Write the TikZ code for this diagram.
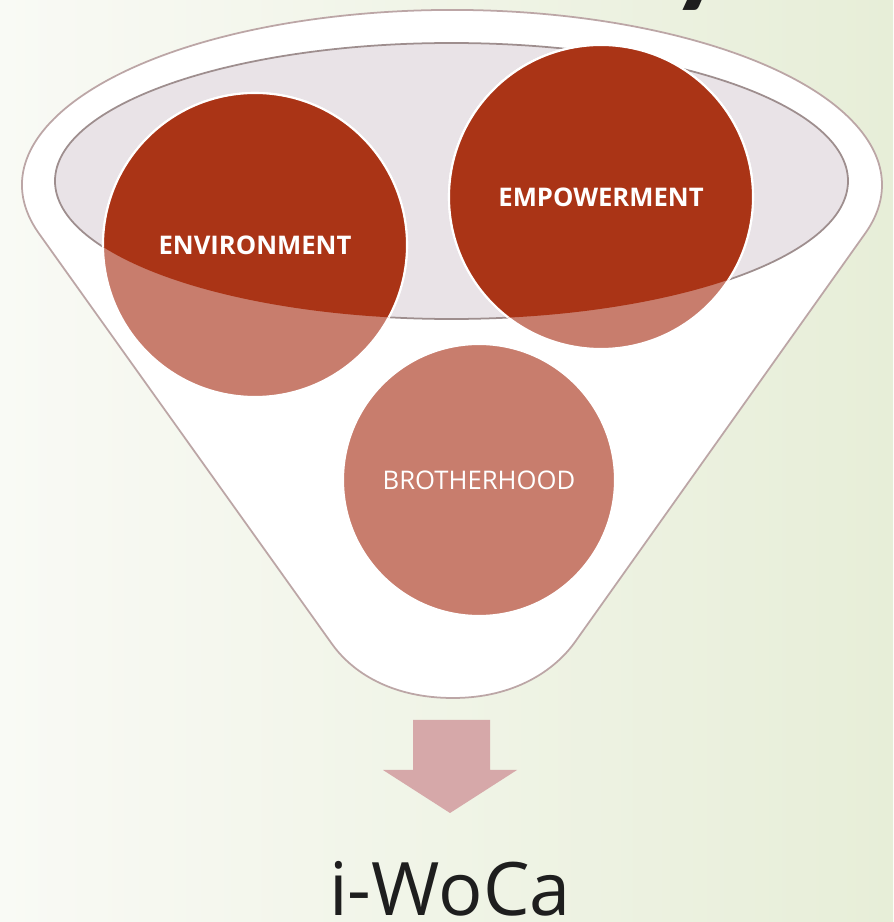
\documentclass[tikz,border=0pt]{standalone}
\usepackage{fontspec}
\setmainfont{Open Sans}
\newfontfamily\titlefont{Lato}
\usepackage{tikz}
\usetikzlibrary{calc}
\definecolor{bgleft}{HTML}{F9FAF5}
\definecolor{bgright}{HTML}{E7EED8}
\definecolor{rim}{HTML}{E9E3E7}
\definecolor{rimline}{HTML}{9E8E8E}
\definecolor{edge}{HTML}{BCA6A6}
\definecolor{rust}{HTML}{AA3416}
\definecolor{salmon}{HTML}{C87D6D}
\definecolor{arrowpink}{HTML}{D6A8A9}
\definecolor{ink}{HTML}{1E1E1E}
\tikzset{
  funnel/.style={fill=white, draw=edge, line width=0.5pt, line join=round},
  rimin/.style={fill=rim, draw=rimline, line width=0.5pt},
  bubble/.style={circle, fill=salmon, draw=white, line width=0.6pt, minimum size=#1, inner sep=0pt},
  dark/.style={fill=rust, draw=white, line width=0.6pt},
  lab/.style={text=white, font=\bfseries\fontsize{7.3}{8}\selectfont},
  labl/.style={text=white, font=\fontsize{7.3}{8}\selectfont},
  big/.style={text=ink, inner sep=0pt, font=\fontsize{21}{24}\selectfont},
}

\begin{document}
\begin{tikzpicture}[x=0.1mm, y=0.1mm]
  \useasboundingbox (0,0) rectangle (893,922);
  \shade[left color=bgleft, right color=bgright] (0,0) rectangle (893,922);

  % cut-off title letter
  \begin{scope}
    \clip (0,0) rectangle (893,922);
    \node[text=ink, font=\titlefont\fontsize{48}{48}\selectfont, anchor=base] (ttl) at (705,940) {y};
  \end{scope}

  % funnel body and rim
  \draw[funnel] (332,278) -- (38.3,689.4)
    arc[start angle=195.8, end angle=-15.8, x radius=430, y radius=175]
    -- (575,280) .. controls (555,252) and (515,224) .. (453,224)
    .. controls (391,224) and (352,250) .. (332,278) -- cycle;
  \draw[rimin] (451.5,741) ellipse[x radius=396.5, y radius=138];

  % circles
  \node[bubble=30.4mm] (env) at (255,677) {};
  \node[bubble=30.4mm] (emp) at (601,725) {};
  \node[bubble=27.2mm] (bro) at (479,442) {};
  \begin{scope}
    \clip (451.5,741) ellipse[x radius=396.5, y radius=138];
    \fill[dark] (env.center) circle[radius=152];
    \fill[dark] (emp.center) circle[radius=152];
  \end{scope}
  \begin{scope}
    \clip (0,741) rectangle (893,922);
    \fill[dark] (emp.center) circle[radius=152];
  \end{scope}

  \node[lab] (envtxt) at (env.center) {ENVIRONMENT};
  \node[lab] (emptxt) at (emp.center) {EMPOWERMENT};
  \node[labl] (brotxt) at (bro.center) {BROTHERHOOD};

  % arrow and result
  \fill[arrowpink] (413,202) -- (490,202) -- (490,152) -- (517,152)
    -- (450,109) -- (383,152) -- (413,152) -- cycle;
  \node[big, anchor=base] (res) at (450,6) {i-WoCa};
\end{tikzpicture}
\end{document}
